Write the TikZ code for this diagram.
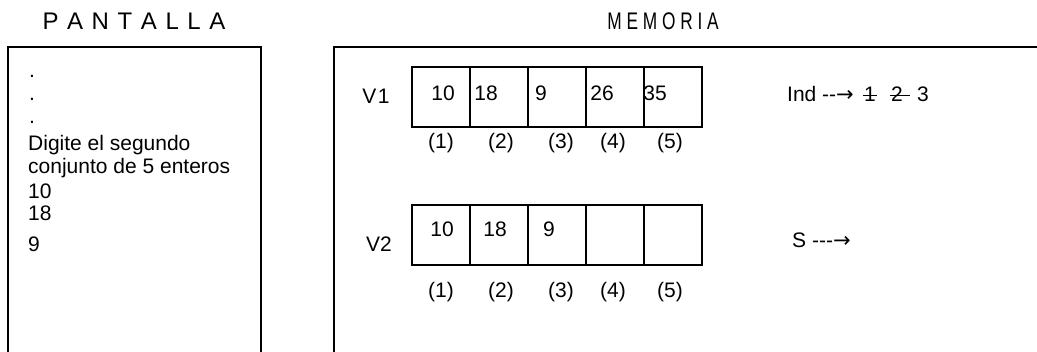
\documentclass[tikz,border=0pt]{standalone}
\usepackage{fontspec}
\setmainfont{Liberation Sans}
\newfontfamily\arrowfont{DejaVu Sans}
\newcommand{\spread}[1]{{\spaceskip=8.6pt\relax #1}}
\usetikzlibrary{positioning}

\begin{document}
\begin{tikzpicture}[x=1pt,y=-1pt,
        frame/.style={line width=2pt},
        cell/.style={draw,line width=1.6pt,minimum width=58.1pt,minimum height=60pt,inner sep=0pt,outer sep=0pt},
        txt/.style={inner sep=0pt,font=\fontsize{21}{25}\selectfont},
        title/.style={inner sep=0pt,font=\fontsize{24}{28}\selectfont}]

    \useasboundingbox (0,0) rectangle (1037,352);

    \node[title] (pant) at (134,21) {\spread{P A N T A L L A}};
    \node[title] (mem) at (663,21) {\scalebox{0.72}[1]{M E M O R I A}};

    \draw[frame] (8,352) -- (8,47) -- (261,47) -- (261,352);
    \draw[frame] (334,352) -- (334,47) -- (1037,47);

    % pantalla
    \node[txt,anchor=base west] (p1) at (29,78) {.};
    \node[txt,anchor=base west] (p2) at (29,101) {.};
    \node[txt,anchor=base west] (p3) at (29,124) {.};
    \node[txt,anchor=base west] (p4) at (28,151) {Digite el segundo};
    \node[txt,anchor=base west] (p5) at (28,174) {conjunto de 5 enteros};
    \node[txt,anchor=base west] (p6) at (28,199) {10};
    \node[txt,anchor=base west] (p7) at (28,221) {18};
    \node[txt,anchor=base west] (p8) at (28,252) {9};

    % vectores
    \node[txt] (v1) at (376,96) {V\kern1.5pt1};
    \node[txt] (v2) at (379,244) {V2};
    \foreach \i in {1,...,5} {
        \node[cell] (a\i) at ({411.7+58.1*(\i-0.5)},97) {};
        \node[cell] (b\i) at ({411.7+58.1*(\i-0.5)},235) {};
    }
    \foreach \i/\x in {1/441,2/501,3/561,4/613,5/670} {
        \node[txt] (ia\i) at (\x,143) {(\i)};
        \node[txt] (ib\i) at (\x,292) {(\i)};
    }
    \foreach \v/\x [count=\i] in {10/443,18/486,9/541,26/602,35/655}
        \node[txt] (va\i) at (\x,93) {\v};
    \foreach \v/\x [count=\i] in {10/442,18/495,9/549}
        \node[txt] (vb\i) at (\x,229) {\v};

    % indices
    \node[txt,anchor=base west] (ind) at (787,102) {Ind -{}-{\arrowfont →}};
    \node[txt,anchor=base] (n1) at (870,102) {1};
    \node[txt,anchor=base] (n2) at (897,102) {2};
    \node[txt,anchor=base] (n3) at (923,102) {3};
    \draw[line width=1pt] ([xshift=-1pt,yshift=-1pt]n1.west) -- ([xshift=1pt,yshift=-1pt]n1.east);
    \draw[line width=1pt] ([xshift=-1pt,yshift=-1pt]n2.west) -- ([xshift=7pt,yshift=-1pt]n2.east);
    \node[txt,anchor=base west] (s) at (792,248) {S -{}-{}-{\arrowfont →}};
\end{tikzpicture}
\end{document}
